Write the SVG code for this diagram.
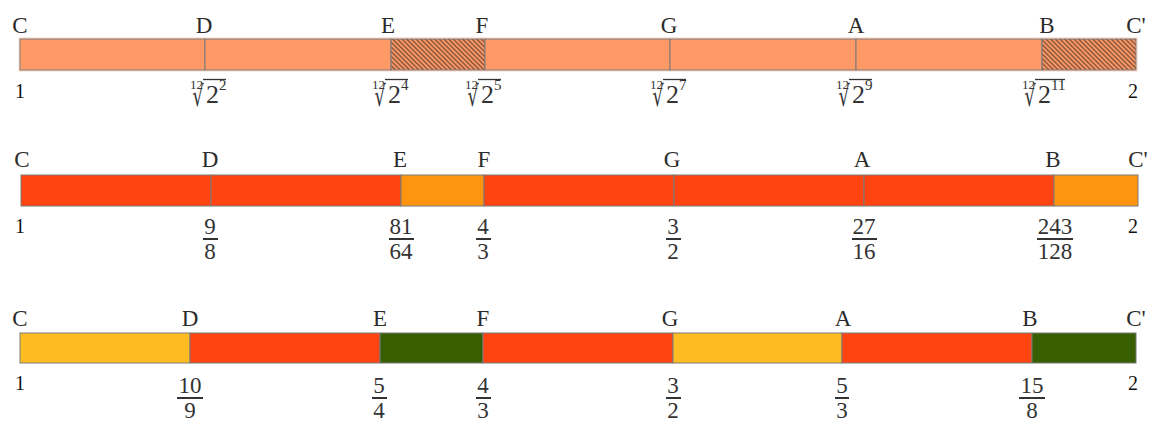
<svg xmlns="http://www.w3.org/2000/svg" width="1165" height="432" viewBox="0 0 1165 432">
<style>
.seg{stroke:#7a7a7a;stroke-width:1}
.r1{fill:#ff9966}
.red{fill:#ff4411}
.org{fill:#ff940e}
.yel{fill:#fdbc21}
.grn{fill:#375e00}
.note{font-family:"Liberation Serif",serif;font-size:23px;fill:#2b2b2b;text-anchor:middle}
.num{font-family:"Liberation Serif",serif;font-size:20px;fill:#111;text-anchor:middle}
.fr{font-family:"Liberation Serif",serif;font-size:23px;fill:#333;text-anchor:middle}
.fb{stroke:#333;stroke-width:2}
.small{font-family:"Liberation Serif",serif;font-size:13px;fill:#333}
.big{font-family:"Liberation Serif",serif;font-size:26px;fill:#333}
.sup{font-family:"Liberation Serif",serif;font-size:15px;fill:#333}
.rad{font-family:"DejaVu Serif",serif;font-size:22px;fill:#333;text-anchor:end}
.vin{stroke:#333;stroke-width:1.3}
</style>
<defs>
<pattern id="hatch" width="6" height="3.3" patternUnits="userSpaceOnUse" patternTransform="rotate(45)">
<rect width="6" height="3.3" fill="#ff9966"/>
<line x1="0" y1="0.8" x2="6" y2="0.8" stroke="#111" stroke-width="0.8"/>
</pattern>
<g id="rt">
<text class="small" x="0" y="88.5">12</text>
<text class="rad" transform="translate(13.6,106) scale(0.8,1.3)">√</text>
</g>
</defs>

<g id="row1">
<rect x="19" y="38" width="1118" height="33" fill="none" stroke="#ffd2b8" stroke-width="1"/>
<g id="r1-bar">
<rect class="seg r1" x="20" y="39" width="185" height="31"/>
<rect class="seg r1" x="205" y="39" width="186" height="31"/>
<rect class="seg" fill="url(#hatch)" x="391" y="39" width="94" height="31"/>
<rect class="seg r1" x="485" y="39" width="185" height="31"/>
<rect class="seg r1" x="670" y="39" width="186" height="31"/>
<rect class="seg r1" x="856" y="39" width="186" height="31"/>
<rect class="seg" fill="url(#hatch)" x="1042" y="39" width="94" height="31"/>
</g>
<g id="r1-notes">
<text class="note" x="20" y="33">C</text>
<text class="note" x="204" y="33">D</text>
<text class="note" x="388" y="33">E</text>
<text class="note" x="482" y="33">F</text>
<text class="note" x="669" y="33">G</text>
<text class="note" x="856" y="33">A</text>
<text class="note" x="1047" y="33">B</text>
<text class="note" x="1136" y="33">C'</text>
</g>
<g id="r1-values">
<text class="num" x="20" y="98">1</text>
<g id="r1-d" transform="translate(190,0)"><use href="#rt"/><line class="vin" x1="13" y1="79.5" x2="36" y2="79.5"/><text class="big" x="16" y="103">2</text><text class="sup" x="29" y="90">2</text></g>
<g id="r1-e" transform="translate(372,0)"><use href="#rt"/><line class="vin" x1="13" y1="79.5" x2="36" y2="79.5"/><text class="big" x="16" y="103">2</text><text class="sup" x="29" y="90">4</text></g>
<g id="r1-f" transform="translate(465,0)"><use href="#rt"/><line class="vin" x1="13" y1="79.5" x2="36" y2="79.5"/><text class="big" x="16" y="103">2</text><text class="sup" x="29" y="90">5</text></g>
<g id="r1-g" transform="translate(650,0)"><use href="#rt"/><line class="vin" x1="13" y1="79.5" x2="36" y2="79.5"/><text class="big" x="16" y="103">2</text><text class="sup" x="29" y="90">7</text></g>
<g id="r1-a" transform="translate(836,0)"><use href="#rt"/><line class="vin" x1="13" y1="79.5" x2="36" y2="79.5"/><text class="big" x="16" y="103">2</text><text class="sup" x="29" y="90">9</text></g>
<g id="r1-b" transform="translate(1022,0)"><use href="#rt"/><line class="vin" x1="13" y1="79.5" x2="43" y2="79.5"/><text class="big" x="16" y="103">2</text><text class="sup" x="29" y="90">11</text></g>
<text class="num" x="1133" y="98">2</text>
</g>
</g>

<g id="row2">
<g id="r2-bar">
<rect class="seg red" x="21" y="175" width="190" height="31"/>
<rect class="seg red" x="211" y="175" width="190" height="31"/>
<rect class="seg org" x="401" y="175" width="83" height="31"/>
<rect class="seg red" x="484" y="175" width="190" height="31"/>
<rect class="seg red" x="674" y="175" width="190" height="31"/>
<rect class="seg red" x="864" y="175" width="190" height="31"/>
<rect class="seg org" x="1054" y="175" width="84" height="31"/>
</g>
<g id="r2-notes">
<text class="note" x="22" y="167">C</text>
<text class="note" x="210" y="167">D</text>
<text class="note" x="400" y="167">E</text>
<text class="note" x="484" y="167">F</text>
<text class="note" x="672" y="167">G</text>
<text class="note" x="862" y="167">A</text>
<text class="note" x="1053" y="167">B</text>
<text class="note" x="1138" y="167">C'</text>
</g>
<g id="r2-values">
<text class="num" x="20" y="233">1</text>
<g id="r2-d"><text class="fr" x="210" y="234">9</text><line class="fb" x1="203" y1="239" x2="218" y2="239"/><text class="fr" x="210" y="259">8</text></g>
<g id="r2-e"><text class="fr" x="401" y="234">81</text><line class="fb" x1="389" y1="239" x2="414" y2="239"/><text class="fr" x="401" y="259">64</text></g>
<g id="r2-f"><text class="fr" x="483" y="234" fill="#111">4</text><line class="fb" x1="476" y1="239" x2="491" y2="239" stroke="#111"/><text class="fr" x="483" y="259">3</text></g>
<g id="r2-g"><text class="fr" x="673" y="234" fill="#111">3</text><line class="fb" x1="666" y1="239" x2="681" y2="239" stroke="#111"/><text class="fr" x="673" y="259">2</text></g>
<g id="r2-a"><text class="fr" x="864" y="234">27</text><line class="fb" x1="852" y1="239" x2="877" y2="239"/><text class="fr" x="864" y="259">16</text></g>
<g id="r2-b"><text class="fr" x="1055" y="234">243</text><line class="fb" x1="1037" y1="239" x2="1073" y2="239"/><text class="fr" x="1055" y="259">128</text></g>
<text class="num" x="1133" y="233">2</text>
</g>
</g>

<g id="row3">
<g id="r3-bar">
<rect class="seg yel" x="20" y="333" width="170" height="30"/>
<rect class="seg red" x="190" y="333" width="190" height="30"/>
<rect class="seg grn" x="380" y="333" width="103" height="30"/>
<rect class="seg red" x="483" y="333" width="190" height="30"/>
<rect class="seg yel" x="673" y="333" width="169" height="30"/>
<rect class="seg red" x="842" y="333" width="190" height="30"/>
<rect class="seg grn" x="1032" y="333" width="104" height="30"/>
</g>
<g id="r3-notes">
<text class="note" x="20" y="326">C</text>
<text class="note" x="190" y="326">D</text>
<text class="note" x="380" y="326">E</text>
<text class="note" x="483" y="326">F</text>
<text class="note" x="670" y="326">G</text>
<text class="note" x="843" y="326">A</text>
<text class="note" x="1030" y="326">B</text>
<text class="note" x="1136" y="326">C'</text>
</g>
<g id="r3-values">
<text class="num" x="20" y="390">1</text>
<g id="r3-d"><text class="fr" x="190" y="393">10</text><line class="fb" x1="177" y1="398" x2="203" y2="398"/><text class="fr" x="190" y="418">9</text></g>
<g id="r3-e"><text class="fr" x="379" y="393">5</text><line class="fb" x1="372" y1="398" x2="387" y2="398"/><text class="fr" x="379" y="418">4</text></g>
<g id="r3-f"><text class="fr" x="483" y="393">4</text><line class="fb" x1="476" y1="398" x2="491" y2="398"/><text class="fr" x="483" y="418">3</text></g>
<g id="r3-g"><text class="fr" x="673" y="393">3</text><line class="fb" x1="666" y1="398" x2="681" y2="398"/><text class="fr" x="673" y="418">2</text></g>
<g id="r3-a"><text class="fr" x="842" y="393">5</text><line class="fb" x1="835" y1="398" x2="849" y2="398"/><text class="fr" x="842" y="418">3</text></g>
<g id="r3-b"><text class="fr" x="1032" y="393">15</text><line class="fb" x1="1019" y1="398" x2="1045" y2="398"/><text class="fr" x="1032" y="418">8</text></g>
<text class="num" x="1133" y="390">2</text>
</g>
</g>
</svg>
